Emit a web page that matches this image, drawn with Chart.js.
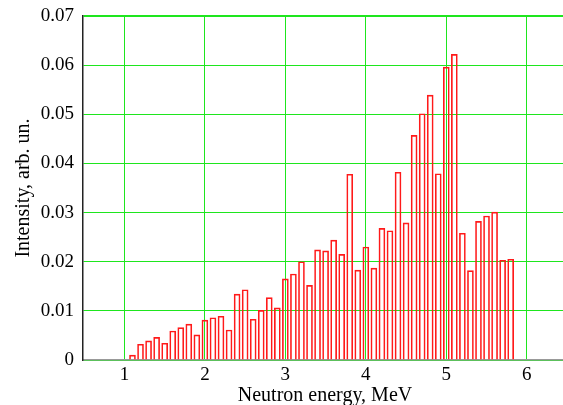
<!DOCTYPE html>
<html lang="en">
<head>
    <meta charset="UTF-8">
    <title>Neutron spectrum</title>
    <script src="https://cdn.jsdelivr.net/npm/chart.js"></script>
    <style>
        html, body { margin: 0; padding: 0; overflow: hidden; background: #fff; }
        #wrap { position: absolute; left: 0; top: 0; width: 570px; height: 405px; }
    </style>
</head>
<body>
    <div id="wrap"><canvas id="spectrumChart"></canvas></div>

    <script>
        // Neutron energy bins (MeV) and intensity (arb. units)
        const energies = [
            1.1, 1.2, 1.3, 1.4, 1.5, 1.6, 1.7, 1.8, 1.9, 2.0,
            2.1, 2.2, 2.3, 2.4, 2.5, 2.6, 2.7, 2.8, 2.9, 3.0,
            3.1, 3.2, 3.3, 3.4, 3.5, 3.6, 3.7, 3.8, 3.9, 4.0,
            4.1, 4.2, 4.3, 4.4, 4.5, 4.6, 4.7, 4.8, 4.9, 5.0,
            5.1, 5.2, 5.3, 5.4, 5.5, 5.6, 5.7, 5.8
        ];
        const intensities = [
            0.0010, 0.0032, 0.0039, 0.0046, 0.0034, 0.0059, 0.0066, 0.0073, 0.0051, 0.0081,
            0.0086, 0.0089, 0.0061, 0.0134, 0.0143, 0.0083, 0.0101, 0.0127, 0.0106, 0.0165,
            0.0175, 0.0200, 0.0152, 0.0224, 0.0222, 0.0244, 0.0215, 0.0378, 0.0183, 0.0230,
            0.0187, 0.0268, 0.0263, 0.0382, 0.0279, 0.0457, 0.0501, 0.0539, 0.0379, 0.0596,
            0.0622, 0.0258, 0.0182, 0.0282, 0.0293, 0.0301, 0.0203, 0.0205
        ];
        const xTicks = [1, 2, 3, 4, 5, 6];
        const yTicks = [0, 0.01, 0.02, 0.03, 0.04, 0.05, 0.06, 0.07];

        const serif = "'Liberation Serif', 'Times New Roman', serif";
        const green = '#1ee61e';

        new Chart(document.getElementById('spectrumChart'), {
            type: 'bar',
            data: {
                datasets: [{
                    label: 'Intensity',
                    data: energies.map((e, i) => ({ x: e, y: intensities[i] })),
                    backgroundColor: 'rgba(0,0,0,0)',
                    borderColor: '#ff1a1a',
                    borderWidth: 1,
                    barThickness: 6
                }]
            },
            options: {
                responsive: true,
                maintainAspectRatio: false,
                animation: false,
                layout: { padding: { top: 16, right: 3, left: 0, bottom: 0 } },
                plugins: {
                    legend: { display: false },
                    tooltip: { enabled: false }
                },
                scales: {
                    x: {
                        type: 'linear',
                        offset: false,
                        min: 0.485,
                        max: 6.5,
                        afterBuildTicks: s => { s.ticks = xTicks.map(v => ({ value: v })); },
                        afterFit: s => {
                            s.height = 45;
                            s.paddingLeft = 0;
                            s.paddingRight = 0;
                        },
                        grid: { offset: false, color: green, lineWidth: 1, drawTicks: false },
                        border: { color: '#999', width: 1.5 },
                        ticks: {
                            padding: 4,
                            color: '#000',
                            font: { family: serif, size: 19 },
                            maxRotation: 0
                        },
                        title: {
                            display: true,
                            text: 'Neutron energy, MeV',
                            color: '#000',
                            font: { family: serif, size: 20 },
                            padding: { top: 0, bottom: -3 }
                        }
                    },
                    y: {
                        min: 0,
                        max: 0.07,
                        afterBuildTicks: s => { s.ticks = yTicks.map(v => ({ value: v })); },
                        afterFit: s => {
                            s.width = 83;
                            s.paddingTop = 0;
                            s.paddingBottom = 0;
                        },
                        grid: {
                            color: green,
                            lineWidth: c => (c.tick && c.tick.value === 0.07 ? 2 : 1),
                            drawTicks: false
                        },
                        border: { color: '#222', width: 1.5 },
                        ticks: {
                            padding: 9,
                            color: '#000',
                            font: { family: serif, size: 19 },
                            callback: v => (v === 0 ? '0' : v.toFixed(2))
                        },
                        title: {
                            display: true,
                            text: 'Intensity, arb. un.',
                            color: '#000',
                            font: { family: serif, size: 20 },
                            padding: { top: 12, bottom: 0 }
                        }
                    }
                }
            }
        });
    </script>
</body>
</html>
